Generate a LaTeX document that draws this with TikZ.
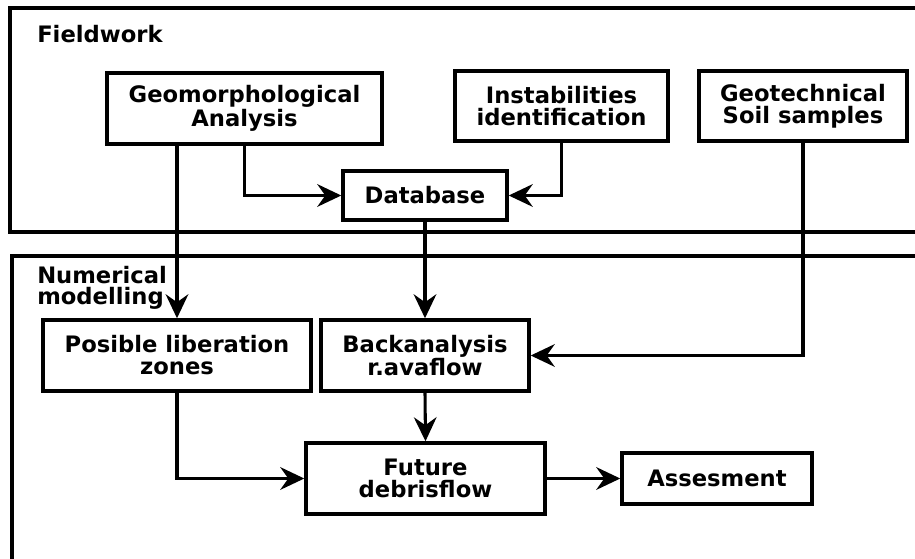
\documentclass[tikz,border=0pt]{standalone}
\usepackage{fontspec}
\setmainfont{DejaVu Sans}
\usetikzlibrary{calc}
\usetikzlibrary{arrows.meta}
\def\Px{0.75pt}
\def\FrameRight{935}
\def\FrameBottom{580}

\tikzset{
  stepbox/.style={draw, line width=2.6pt, align=center, inner sep=0pt,
    font=\fontsize{17}{16.5}\selectfont\bfseries},
  flow/.style={line width=2.3pt, -{Stealth[length=18pt, width=17pt, inset=6pt]}},
  frame/.style={line width=2.6pt},
  groupname/.style={inner sep=0pt, align=left,
    font=\fontsize{17}{16}\selectfont\bfseries}
}

\begin{document}
\begin{tikzpicture}[x=\Px,y=-\Px]
  \clip (0,0) rectangle (915,559);
  \coordinate (Geo) at (244.5,108.5);
  \coordinate (Ins) at (561.5,106);
  \coordinate (Gtc) at (803,106);
  \coordinate (Db) at (425,195.5);
  \coordinate (Pos) at (177,355.5);
  \coordinate (Bck) at (425,355.5);
  \coordinate (Fut) at (425.5,478.5);
  \coordinate (Ass) at (717,478.5);
  % frames
  \draw [frame] (\FrameRight,8) -- (10,8) -- (10,232) -- (\FrameRight,232);
  \draw [frame] (\FrameRight,256) -- (12,256) -- (12,\FrameBottom);
  \node [groupname, anchor=base west] (fieldwork) at (37,43) {Fieldwork};
  \node [groupname, anchor=north west] (numerical) at (37,266) {Numerical\\modelling};
  % fieldwork
  \node [stepbox, minimum width=275*\Px, minimum height=71*\Px] (geo) at (Geo) {Geomorphological\\Analysis};
  \node [stepbox, minimum width=213*\Px, minimum height=70*\Px] (ins) at (Ins) {Instabilities\\identification};
  \node [stepbox, minimum width=208*\Px, minimum height=70*\Px] (gtc) at (Gtc) {Geotechnical\\Soil samples};
  \node [stepbox, minimum width=164*\Px, minimum height=49*\Px] (db) at (Db) {Database};
  % numerical modelling
  \node [stepbox, minimum width=268*\Px, minimum height=71*\Px] (pos) at (Pos) {Posible liberation\\zones};
  \node [stepbox, minimum width=208*\Px, minimum height=71*\Px] (bck) at (Bck) {Backanalysis\\r.avaflow};
  \node [stepbox, minimum width=239*\Px, minimum height=71*\Px] (fut) at (Fut) {Future\\debrisflow};
  \node [stepbox, minimum width=190*\Px, minimum height=51*\Px] (ass) at (Ass) {Assesment};
  % connectors
  \draw [flow] (geo.south) |- (db.west);
  \draw [flow] (ins.south) |- (db.east);
  \draw [flow] (geo.south -| pos.north) -- (pos.north);
  \draw [flow] (db.south) -- (bck.north);
  \draw [flow] (gtc.south) |- (bck.east);
  \draw [flow] (pos.south) |- (fut.west);
  \draw [flow] (bck.south) -- (fut.north);
  \draw [flow] (fut.east) -- (ass.west);
\end{tikzpicture}
\end{document}
